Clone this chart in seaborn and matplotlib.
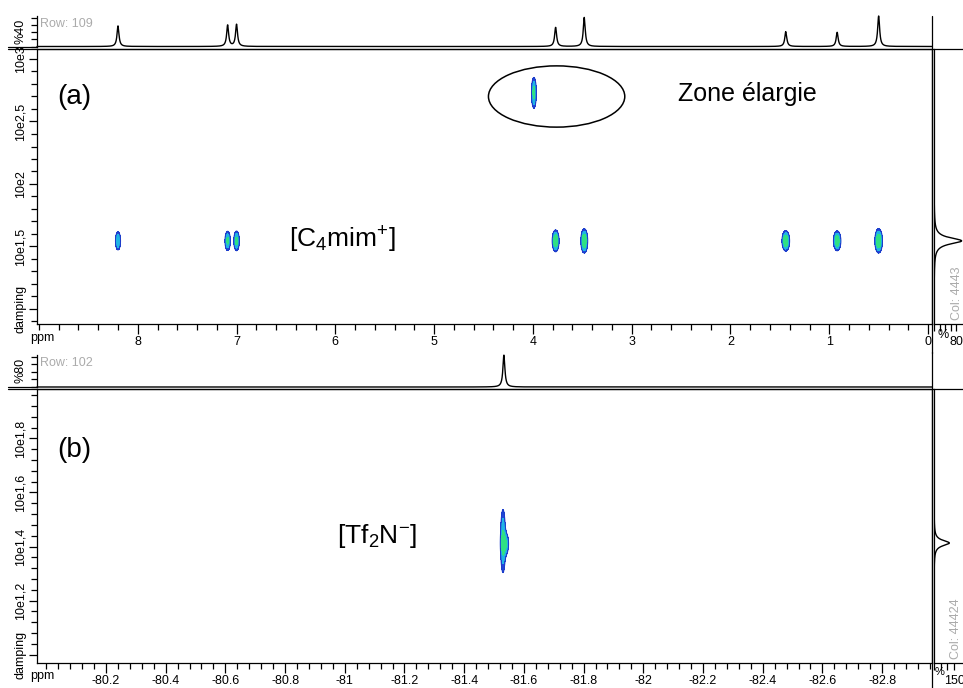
import numpy as np
import matplotlib.pyplot as plt
import seaborn as sns
from matplotlib.patches import Ellipse
from matplotlib.lines import Line2D
from matplotlib.ticker import MultipleLocator

sns.set_theme(style='white')
plt.rcParams['font.family'] = ['Liberation Sans', 'DejaVu Sans']
plt.rcParams['mathtext.default'] = 'regular'
plt.rcParams['axes.edgecolor'] = 'black'
plt.rcParams['text.color'] = 'black'
plt.rcParams['xtick.color'] = 'black'
plt.rcParams['ytick.color'] = 'black'
plt.rcParams['axes.linewidth'] = 0.9

W, H = 963, 688

# ---------------- (a) [C4mim+] : DOSY 1H ----------------
ppm_a = [8.20, 7.09, 7.00, 3.77, 3.48, 1.44, 0.92, 0.50]
haut_a = [29, 30, 31, 27, 41, 21, 20, 43]            # trace du haut (%)
logd_a = [1.545, 1.545, 1.545, 1.545, 1.545, 1.545, 1.545, 1.545]
amp_a = [0.55, 0.65, 0.7, 1.0, 1.0, 1.0, 0.9, 1.0]
sx_a = [0.016, 0.016, 0.016, 0.018, 0.018, 0.02, 0.02, 0.02]
sy_a = [0.045, 0.045, 0.045, 0.045, 0.05, 0.042, 0.042, 0.05]
# tache de la zone elargie
ppm_zone = [3.99]
logd_zone = [2.73]
amp_zone = [0.7]
sx_zone = [0.014]
sy_zone = [0.07]
# projection sur la colonne
col_a_logd = [1.545]
col_a_haut = [100]

xlim_a = (9.02, -0.04)
ylim_a = (0.88, 3.08)
xt_a = [8, 7, 6, 5, 4, 3, 2, 1, 0]
xtl_a = ['8', '7', '6', '5', '4', '3', '2', '1', '0']
yt_a = [1.0, 1.5, 2.0, 2.5, 3.0]
ytl_a = ['damping', '10e1,5', '10e2', '10e2,5', '10e3']

# ---------------- (b) [Tf2N-] : DOSY 19F ----------------
ppm_b = [-81.530, -81.537]
haut_b = [85]
ppm_trace_b = [-81.533]
logd_b = [1.42, 1.41]
amp_b = [0.6, 0.6]
sx_b = [0.005, 0.007]
sy_b = [0.07, 0.025]
col_b_logd = [1.413]
col_b_haut = [115]

xlim_b = (-79.969, -82.967)
ylim_b = (0.969, 1.983)
xt_b = [-80.2, -80.4, -80.6, -80.8, -81.0, -81.2, -81.4, -81.6, -81.8, -82.0,
        -82.2, -82.4, -82.6, -82.8]
xtl_b = ['-80.2', '-80.4', '-80.6', '-80.8', '-81', '-81.2', '-81.4', '-81.6',
         '-81.8', '-82', '-82.2', '-82.4', '-82.6', '-82.8']
yt_b = [1.0, 1.2, 1.4, 1.6, 1.8]
ytl_b = ['damping', '10e1,2', '10e1,4', '10e1,6', '10e1,8']

niveaux = [0.15, 0.3, 0.55, 5]
couleurs = ['#2347d8', '#1fb4e4', '#2fe084']


def boite(x0, y0, x1, y1):
    # pixels (origine en haut a gauche) -> coordonnees figure
    return [x0 / W, 1 - y1 / H, (x1 - x0) / W, (y1 - y0) / H]


def ligne(x0, y0, x1, y1):
    fig.add_artist(Line2D([x0 / W, x1 / W], [1 - y0 / H, 1 - y1 / H],
                          color='black', lw=0.9))


def texte(x, y, s, **kw):
    fig.text(x / W, 1 - y / H, s, **kw)


def lorentz(x, pos, h, w):
    y = np.zeros_like(x)
    for p, a in zip(pos, h):
        y += a / (1 + ((x - p) / w) ** 2)
    return y


def taches(X, Y, ppm, logd, amp, sx, sy):
    Z = np.zeros_like(X)
    for p, d, a, u, v in zip(ppm, logd, amp, sx, sy):
        Z += a * np.exp(-0.5 * ((X - p) / u) ** 2 - 0.5 * ((Y - d) / v) ** 2)
    return Z


def axe_principal(ax, xl, yl, xt, xtl, yt, ytl, xmin, ymin):
    ax.set_xlim(*xl)
    ax.set_ylim(*yl)
    ax.set_xticks(xt)
    ax.set_xticklabels(xtl)
    ax.set_yticks(yt)
    ax.set_yticklabels(ytl, rotation=90, va='center')
    ax.xaxis.set_minor_locator(MultipleLocator(xmin))
    ax.yaxis.set_minor_locator(MultipleLocator(ymin))
    ax.tick_params(which='both', direction='out', bottom=True, left=True,
                   top=False, right=False, width=0.9, labelsize=9)
    ax.tick_params(axis='x', which='major', length=7, pad=2)
    ax.tick_params(axis='x', which='minor', length=4.3)
    ax.tick_params(axis='y', which='major', length=6, pad=1.5)
    ax.tick_params(axis='y', which='minor', length=4.5)
    ax.set_xlabel('')
    ax.set_ylabel('')


def trace_haut(ax, xl, pos, h, w, yl, yt):
    xh = np.linspace(xl[0], xl[1], 9000)
    sns.lineplot(x=xh, y=lorentz(xh, pos, h, w), ax=ax, color='black',
                 lw=1.0, estimator=None)
    for l in ax.lines:
        l.set_clip_on(False)
    ax.set_xlim(*xl)
    ax.set_ylim(*yl)
    for s in ['top', 'right', 'bottom']:
        ax.spines[s].set_visible(False)
    ax.set_xticks([])
    ax.set_yticks(yt)
    ax.set_yticklabels([])
    ax.tick_params(axis='y', left=True, direction='out', length=4.5, width=0.9)
    ax.set_xlabel('')
    ax.set_ylabel('')


def trace_droite(ax, yl, pos, h, w, xl, xt, xtl):
    yv = np.linspace(yl[0], yl[1], 4000)
    ax.plot(lorentz(yv, pos, h, w), yv, color='black', lw=1.0)
    ax.set_ylim(*yl)
    ax.set_xlim(*xl)
    ax.spines['top'].set_visible(False)
    ax.spines['right'].set_visible(False)
    ax.set_yticks([])
    ax.set_xticks(xt)
    ax.set_xticklabels(xtl)
    ax.tick_params(axis='x', bottom=True, direction='out', length=5, width=0.9,
                   labelsize=9, pad=4)


fig = plt.figure(figsize=(W / 100, H / 100), dpi=100)

# ================= panneau (a) =================
ax_a = fig.add_axes(boite(37, 49, 932, 324))
xx = np.linspace(xlim_a[0], xlim_a[1], 3000)
yy = np.linspace(ylim_a[0], ylim_a[1], 800)
X, Y = np.meshgrid(xx, yy)
Z = taches(X, Y, ppm_a + ppm_zone, logd_a + logd_zone, amp_a + amp_zone,
           sx_a + sx_zone, sy_a + sy_zone)
ax_a.contourf(X, Y, Z, levels=niveaux, colors=couleurs)
ax_a.contour(X, Y, Z, levels=[niveaux[0]], colors=['#1c3cc8'], linewidths=0.7)
axe_principal(ax_a, xlim_a, ylim_a, xt_a, xtl_a, yt_a, ytl_a, 0.2, 0.1)
ax_a.add_patch(Ellipse((3.76, 2.70), 1.38, 0.49, fill=False,
                       edgecolor='black', lw=1.1))

ax_ha = fig.add_axes(boite(37, 16, 932, 46.5))
trace_haut(ax_ha, xlim_a, ppm_a, haut_a, 0.012, (0, 43), [0, 10, 20, 30, 40])

ax_da = fig.add_axes(boite(934, 49, 976, 324))
trace_droite(ax_da, ylim_a, col_a_logd, col_a_haut, 0.03, (0, 152),
             [0, 20, 40, 60, 80], ['', '', '', '', '80'])

ligne(8, 46.5, 37, 46.5)
ligne(8, 49, 963, 49)
ligne(932, 16, 932, 353)

texte(21, 31, '%40', rotation=90, ha='center', va='center', fontsize=9)
texte(40, 24, 'Row: 109', color='#ababab', fontsize=9, va='center')
texte(957, 293, 'Col: 4443', rotation=90, color='#ababab', ha='center',
      va='center', fontsize=9)
texte(42, 338, 'ppm', ha='center', va='center', fontsize=9)
texte(943, 335, '%', ha='center', va='center', fontsize=9)
texte(57, 97, '(a)', fontsize=20, va='center')
texte(678, 94, 'Zone élargie', fontsize=18, va='center')
texte(289, 240, r'$[C_4mim^{+}]$', fontsize=19, va='center')

# ================= panneau (b) =================
ax_b = fig.add_axes(boite(37, 389, 932, 663))
xx = np.linspace(xlim_b[0], xlim_b[1], 4000)
yy = np.linspace(ylim_b[0], ylim_b[1], 800)
X, Y = np.meshgrid(xx, yy)
Z = taches(X, Y, ppm_b, logd_b, amp_b, sx_b, sy_b)
ax_b.contourf(X, Y, Z, levels=niveaux, colors=couleurs)
ax_b.contour(X, Y, Z, levels=[niveaux[0]], colors=['#1c3cc8'], linewidths=0.7)
axe_principal(ax_b, xlim_b, ylim_b, xt_b, xtl_b, yt_b, ytl_b, 0.04, 0.04)

ax_hb = fig.add_axes(boite(37, 355, 932, 387))
trace_haut(ax_hb, xlim_b, ppm_trace_b, haut_b, 0.004, (0, 85.3),
           [0, 20, 40, 60, 80])

ax_db = fig.add_axes(boite(934, 389, 976, 663))
trace_droite(ax_db, ylim_b, col_b_logd, col_b_haut, 0.012, (0, 315),
             [0, 50, 100, 150], ['', '', '', '150'])

ligne(8, 387, 37, 387)
ligne(8, 389, 963, 389)
ligne(932, 352, 932, 688)

texte(21, 370, '%80', rotation=90, ha='center', va='center', fontsize=9)
texte(40, 363, 'Row: 102', color='#ababab', fontsize=9, va='center')
texte(956, 629, 'Col: 44424', rotation=90, color='#ababab', ha='center',
      va='center', fontsize=9)
texte(42, 676, 'ppm', ha='center', va='center', fontsize=9)
texte(940, 672, '%', ha='center', va='center', fontsize=8)
texte(57, 450, '(b)', fontsize=20, va='center')
texte(337, 536, r'$[Tf_2N^{-}]$', fontsize=19, va='center')

fig.savefig('out.png', dpi=100)
